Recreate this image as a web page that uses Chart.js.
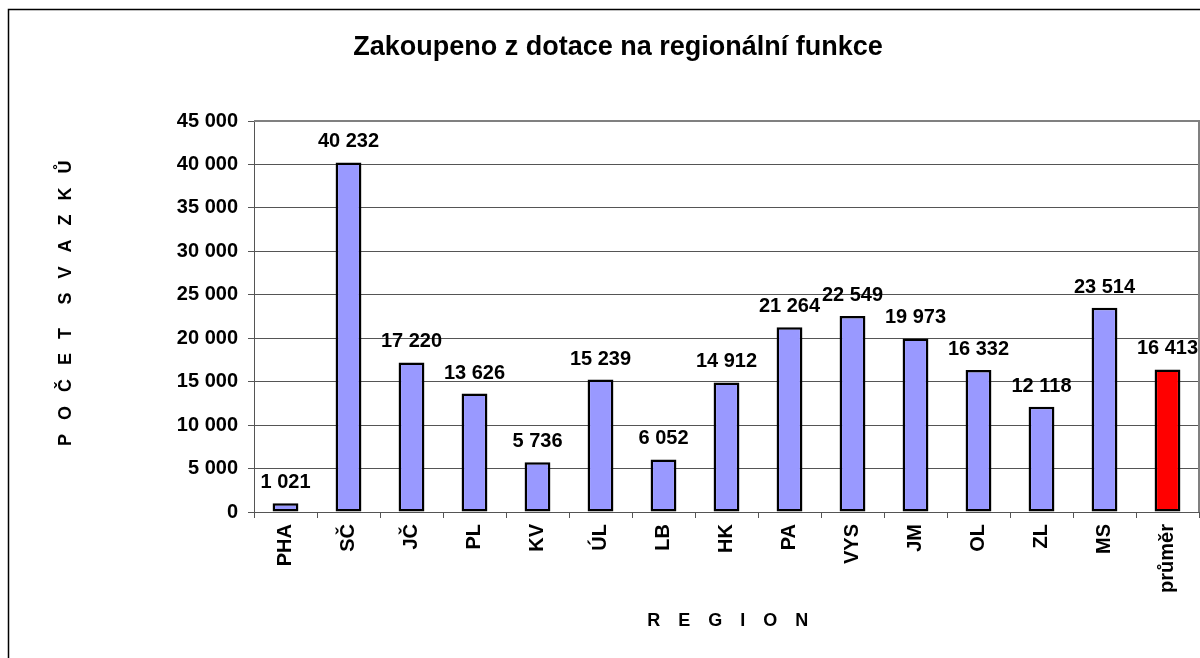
<!DOCTYPE html>
<html><head><meta charset="utf-8">
<script src="https://cdn.jsdelivr.net/npm/chart.js@4"></script>
<style>html,body{margin:0;padding:0;background:#fff}</style>
</head><body>
<canvas id="c" width="1200" height="658"></canvas>
<script>
const categories = ['PHA','SČ','JČ','PL','KV','ÚL','LB','HK','PA','VYS','JM','OL','ZL','MS','průměr'];
const values = [1021,40232,17220,13626,5736,15239,6052,14912,21264,22549,19973,16332,12118,23514,16413];
const barColors = ['#9999FF','#9999FF','#9999FF','#9999FF','#9999FF','#9999FF','#9999FF','#9999FF','#9999FF','#9999FF','#9999FF','#9999FF','#9999FF','#9999FF','#FF0000'];
const yTickValues = [0,5000,10000,15000,20000,25000,30000,35000,40000,45000];
const titleText = 'Zakoupeno z dotace na regionální funkce';
const yTitleText = 'P O Č E T  S V A Z K Ů';
const xTitleText = 'R E G I O N';

const FONT = 'Arial, "Liberation Sans", sans-serif';
const fmt = v => String(v).replace(/\B(?=(\d{3})+(?!\d))/g, ' ');

const decor = {
  id: 'decor',
  beforeDraw(chart) {
    const ctx = chart.ctx;
    ctx.save();
    ctx.fillStyle = '#fff';
    ctx.fillRect(0, 0, chart.width, chart.height);
    ctx.strokeStyle = '#000';
    ctx.lineWidth = 1.5;
    ctx.strokeRect(8.5, 9.5, 1300, 800);
    ctx.restore();
  },
  afterDraw(chart) {
    const ctx = chart.ctx;
    const a = chart.chartArea;
    ctx.save();
    ctx.strokeStyle = '#808080';
    ctx.lineWidth = 2;
    ctx.beginPath();
    ctx.moveTo(a.left, a.top);
    ctx.lineTo(a.right, a.top);
    ctx.lineTo(a.right, a.bottom);
    ctx.stroke();
    // data labels
    ctx.fillStyle = '#000';
    ctx.font = 'bold 20px ' + FONT;
    ctx.textAlign = 'center';
    ctx.textBaseline = 'alphabetic';
    const meta = chart.getDatasetMeta(0);
    meta.data.forEach((bar, i) => {
      ctx.fillText(fmt(values[i]), bar.x, bar.y - 15);
    });
    // title
    ctx.font = 'bold 27px ' + FONT;
    ctx.textBaseline = 'middle';
    ctx.fillText(titleText, 618, 48);
    // x title
    ctx.font = 'bold 18px ' + FONT;
    ctx.letterSpacing = '6.5px';
    ctx.fillText(xTitleText, 731, 621);
    // y title
    ctx.translate(66, 303);
    ctx.rotate(-Math.PI / 2);
    ctx.font = 'bold 18px ' + FONT;
    ctx.letterSpacing = '4.5px';
    ctx.fillText(yTitleText, 2, 0);
    ctx.restore();
  }
};

new Chart(document.getElementById('c'), {
  type: 'bar',
  data: {
    labels: categories,
    datasets: [{
      data: values,
      backgroundColor: barColors,
      borderColor: '#000',
      borderWidth: 2.5,
      borderSkipped: false,
      barPercentage: 0.82,
      categoryPercentage: 0.5
    }]
  },
  options: {
    responsive: false,
    animation: false,
    layout: { padding: { top: 121, right: 1, left: 0, bottom: 0 } },
    plugins: { legend: { display: false }, title: { display: false }, tooltip: { enabled: false } },
    scales: {
      x: {
        afterFit(s) { s.height = 146; },
        grid: { offset: true, drawOnChartArea: false, drawTicks: true, tickLength: 6, color: '#555' },
        border: { color: '#555', width: 1 },
        ticks: { autoSkip: false, minRotation: 90, maxRotation: 90, padding: 6, color: '#000', font: { family: FONT, size: 20, weight: 'bold' } }
      },
      y: {
        min: 0, max: 45000,
        afterFit(s) { s.width = 254; },
        afterBuildTicks(s) { s.ticks = yTickValues.map(v => ({ value: v })); },
        grid: { color: '#555', tickLength: 6, drawTicks: true },
        border: { color: '#555', width: 1 },
        ticks: { padding: 10, color: '#000', font: { family: FONT, size: 20, weight: 'bold' }, callback: v => fmt(v) }
      }
    }
  },
  plugins: [decor]
});
</script>
</body></html>
